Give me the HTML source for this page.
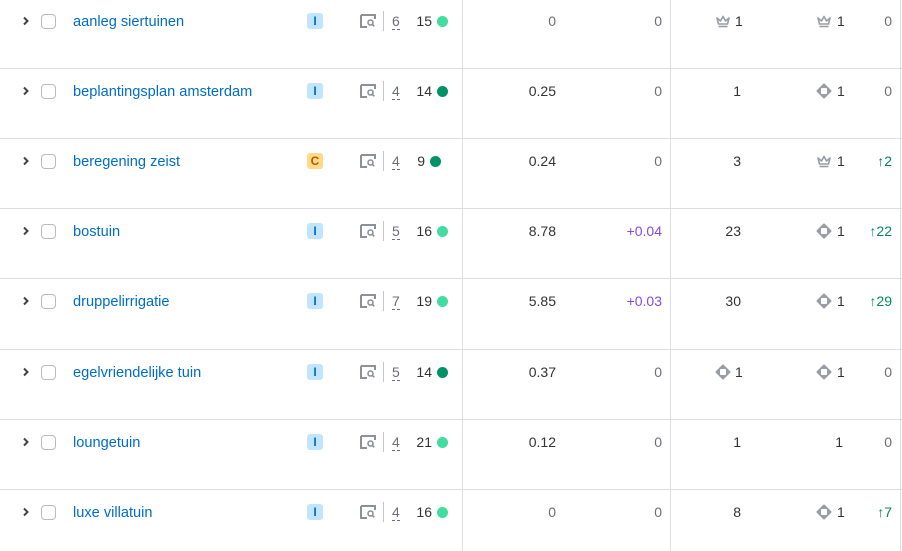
<!DOCTYPE html>
<html><head><meta charset="utf-8"><style>
*{margin:0;padding:0;box-sizing:border-box}
body{width:902px;height:551px;background:#fff;position:relative;overflow:hidden;font-family:"Liberation Sans",Arial,sans-serif;font-size:14px;color:#333}
.vl{position:absolute;top:0;bottom:0;width:1px;background:#dcdce4}
.hl{position:absolute;left:0;width:902px;height:1px;background:#dcdce4}
.r{position:absolute;left:0;width:902px;height:20px;line-height:20px}
.r>*{position:absolute;top:0}
.chev{left:20px;top:4px!important}
.cb{left:41px;top:3px!important;width:15px;height:15px;border:1px solid #b9bac3;border-radius:4px}
.kw{left:73px;color:#006dca;font-size:14.6px;top:1px!important}
.bd{left:307px;top:2px!important;width:16px;height:16px;border-radius:3px;font-size:12px;font-weight:bold;line-height:16px;text-align:center}
.bi{background:#c2e5ff;color:#006dca}
.bc{background:#ffd98a;color:#b45b00}
.serp{left:360px;top:3px!important}
.dv{left:383px;top:0!important;width:1px;height:20px;background:#c6c7ce}
.n{left:392px;color:#6c6e79;border-bottom:1px dashed #6c6e79;line-height:15px;top:3px!important}
.kd{right:470px}
.dot{left:437px;top:5px!important;width:11px;height:11px;border-radius:50%}
.lg{background:#40dca0}.dk{background:#00936a}
.c1{right:346px}
.c2{right:240px;color:#6c6e79}
.c3{right:161px}
.c4{right:59px}
.c5{right:10px;color:#6c6e79}
.pu{color:#8649e1}
.gr{color:#008a5e}
.ic{top:2px!important}
</style></head><body>
<div class="vl" style="left:462px"></div>
<div class="vl" style="left:670px"></div>
<div class="vl" style="left:900px"></div>
<div class="hl" style="top:68px"></div>
<div class="hl" style="top:138px"></div>
<div class="hl" style="top:208px"></div>
<div class="hl" style="top:278px"></div>
<div class="hl" style="top:349px"></div>
<div class="hl" style="top:419px"></div>
<div class="hl" style="top:489px"></div>

<svg width="0" height="0" style="position:absolute">
<defs>
<symbol id="chev" viewBox="0 0 12 12"><path d="M4 2.5 L7.5 6 L4 9.5" fill="none" stroke="#444" stroke-width="2"/></symbol>
<symbol id="serp" viewBox="0 0 16 14"><path d="M1 1h14v4M1 1v12h6" fill="none" stroke="#8d8f99" stroke-width="2"/><circle cx="10.5" cy="8.5" r="2.5" fill="none" stroke="#8d8f99" stroke-width="1.6"/><path d="M12.3 10.3l2 2" stroke="#8d8f99" stroke-width="1.6"/></symbol>
<symbol id="crown" viewBox="0 0 16 16"><path d="M2 5l3.5 3L8 3.5 10.5 8 14 5l-1.5 6h-9z" fill="none" stroke="#9a9ca6" stroke-width="1.6" stroke-linejoin="round"/><path d="M3.5 13.5h9" stroke="#9a9ca6" stroke-width="1.6"/></symbol>
<symbol id="dia" viewBox="0 0 16 16"><path d="M8 1.5 L14.5 8 L8 14.5 L1.5 8Z" fill="#9a9ca6" stroke="#9a9ca6" stroke-width="2" stroke-linejoin="round"/><rect x="5" y="5" width="6" height="6" rx="1" fill="#fff"/></symbol>
</defs></svg>

<div class="r" style="top:11px">
<svg class="chev" width="12" height="12"><use href="#chev"/></svg><div class="cb"></div>
<span class="kw">aanleg siertuinen</span><span class="bd bi">I</span>
<svg class="serp" width="16" height="14"><use href="#serp"/></svg><span class="dv"></span><span class="n">6</span>
<span class="kd">15</span><span class="dot lg"></span>
<span class="c1" style="color:#6c6e79">0</span><span class="c2">0</span>
<svg class="ic" style="left:715px" width="16" height="16"><use href="#crown"/></svg><span style="left:735px">1</span>
<svg class="ic" style="left:816px" width="16" height="16"><use href="#crown"/></svg><span style="left:837px">1</span>
<span class="c5">0</span></div>

<div class="r" style="top:81px">
<svg class="chev" width="12" height="12"><use href="#chev"/></svg><div class="cb"></div>
<span class="kw">beplantingsplan amsterdam</span><span class="bd bi">I</span>
<svg class="serp" width="16" height="14"><use href="#serp"/></svg><span class="dv"></span><span class="n">4</span>
<span class="kd">14</span><span class="dot dk"></span>
<span class="c1">0.25</span><span class="c2">0</span><span class="c3">1</span>
<svg class="ic" style="left:816px" width="16" height="16"><use href="#dia"/></svg><span style="left:837px">1</span>
<span class="c5">0</span></div>

<div class="r" style="top:151px">
<svg class="chev" width="12" height="12"><use href="#chev"/></svg><div class="cb"></div>
<span class="kw">beregening zeist</span><span class="bd bc">C</span>
<svg class="serp" width="16" height="14"><use href="#serp"/></svg><span class="dv"></span><span class="n">4</span>
<span class="kd" style="right:477px">9</span><span class="dot dk" style="left:430px"></span>
<span class="c1">0.24</span><span class="c2">0</span><span class="c3">3</span>
<svg class="ic" style="left:816px" width="16" height="16"><use href="#crown"/></svg><span style="left:837px">1</span>
<span class="c5 gr">↑2</span></div>

<div class="r" style="top:221px">
<svg class="chev" width="12" height="12"><use href="#chev"/></svg><div class="cb"></div>
<span class="kw">bostuin</span><span class="bd bi">I</span>
<svg class="serp" width="16" height="14"><use href="#serp"/></svg><span class="dv"></span><span class="n">5</span>
<span class="kd">16</span><span class="dot lg"></span>
<span class="c1">8.78</span><span class="c2 pu">+0.04</span><span class="c3">23</span>
<svg class="ic" style="left:816px" width="16" height="16"><use href="#dia"/></svg><span style="left:837px">1</span>
<span class="c5 gr">↑22</span></div>

<div class="r" style="top:291px">
<svg class="chev" width="12" height="12"><use href="#chev"/></svg><div class="cb"></div>
<span class="kw">druppelirrigatie</span><span class="bd bi">I</span>
<svg class="serp" width="16" height="14"><use href="#serp"/></svg><span class="dv"></span><span class="n">7</span>
<span class="kd">19</span><span class="dot lg"></span>
<span class="c1">5.85</span><span class="c2 pu">+0.03</span><span class="c3">30</span>
<svg class="ic" style="left:816px" width="16" height="16"><use href="#dia"/></svg><span style="left:837px">1</span>
<span class="c5 gr">↑29</span></div>

<div class="r" style="top:362px">
<svg class="chev" width="12" height="12"><use href="#chev"/></svg><div class="cb"></div>
<span class="kw">egelvriendelijke tuin</span><span class="bd bi">I</span>
<svg class="serp" width="16" height="14"><use href="#serp"/></svg><span class="dv"></span><span class="n">5</span>
<span class="kd">14</span><span class="dot dk"></span>
<span class="c1">0.37</span><span class="c2">0</span>
<svg class="ic" style="left:715px" width="16" height="16"><use href="#dia"/></svg><span style="left:735px">1</span>
<svg class="ic" style="left:816px" width="16" height="16"><use href="#dia"/></svg><span style="left:837px">1</span>
<span class="c5">0</span></div>

<div class="r" style="top:432px">
<svg class="chev" width="12" height="12"><use href="#chev"/></svg><div class="cb"></div>
<span class="kw">loungetuin</span><span class="bd bi">I</span>
<svg class="serp" width="16" height="14"><use href="#serp"/></svg><span class="dv"></span><span class="n">4</span>
<span class="kd">21</span><span class="dot lg"></span>
<span class="c1">0.12</span><span class="c2">0</span><span class="c3">1</span><span class="c4">1</span>
<span class="c5">0</span></div>

<div class="r" style="top:502px">
<svg class="chev" width="12" height="12"><use href="#chev"/></svg><div class="cb"></div>
<span class="kw">luxe villatuin</span><span class="bd bi">I</span>
<svg class="serp" width="16" height="14"><use href="#serp"/></svg><span class="dv"></span><span class="n">4</span>
<span class="kd">16</span><span class="dot lg"></span>
<span class="c1" style="color:#6c6e79">0</span><span class="c2">0</span><span class="c3">8</span>
<svg class="ic" style="left:816px" width="16" height="16"><use href="#dia"/></svg><span style="left:837px">1</span>
<span class="c5 gr">↑7</span></div>
</body></html>
